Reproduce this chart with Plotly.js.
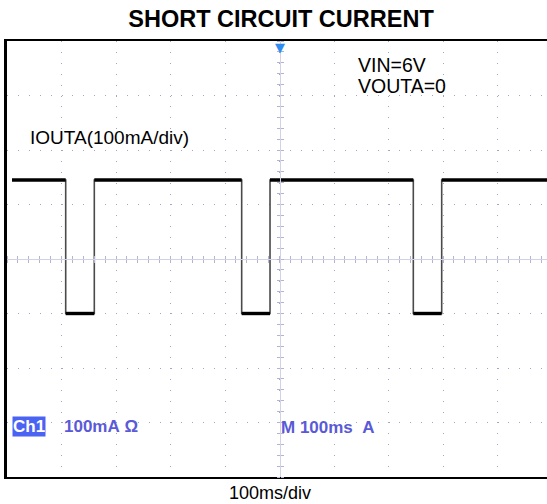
<!DOCTYPE html>
<html>
<head>
<meta charset="utf-8">
<script src="https://cdn.plot.ly/plotly-3.0.1.min.js"></script>
<style>html,body{margin:0;padding:0;background:#fff;}#chart{width:547px;height:504px;}</style>
</head>
<body>
<div id="chart"></div>
<script>
// ---- data (time in ms, current in mA; 100 ms/div, 100 mA/div) ----
const stepTimes = [9.2, 107.7, 160.2, 430.6, 482.6, 745.5, 797.6, 990.8];
const stepCurrent = [245, 0, 245, 0, 245, 0, 245, 245];
const titleText = 'SHORT CIRCUIT CURRENT';
const xTitleText = '100ms/div';
const traceLabel = 'IOUTA(100mA/div)';
const condLines = ['VIN=6V', 'VOUTA=0'];
const scopeLabels = ['Ch1', '100mA\u00a0\u03A9', 'M 100ms\u00a0\u00a0A'];

const xRange = [0, 990.8];
const yRange = [-300, 500];

// plateau segments (thick) built from the step arrays
const platX = [], platY = [];
for (let i = 0; i < stepTimes.length - 1; i++) {
  platX.push(stepTimes[i], stepTimes[i + 1], null);
  platY.push(stepCurrent[i], stepCurrent[i], null);
}

const FONT = 'Liberation Sans, Arial, sans-serif';
const gridDash = '1px,9.9px';
const gridColor = '#a4a4c4';
const crossColor = '#d2d2e6';

const traces = [
  {x: stepTimes, y: stepCurrent, mode: 'lines', line: {shape: 'hv', color: '#4a4a4a', width: 1.6},
   hoverinfo: 'skip', showlegend: false},
  {x: platX, y: platY, mode: 'lines', line: {color: '#000', width: 3.4},
   hoverinfo: 'skip', showlegend: false, connectgaps: false},
  {x: [], y: [], xaxis: 'x2', yaxis: 'y2', showlegend: false, hoverinfo: 'skip'},
  {x: [], y: [], xaxis: 'x3', yaxis: 'y3', showlegend: false, hoverinfo: 'skip'}
];

const baseX = {range: xRange, fixedrange: true, showticklabels: false, zeroline: false};
const baseY = {range: yRange, fixedrange: true, showticklabels: false, zeroline: false};

const px = p => (p - 7) / 540;      // pixel x -> paper
const py = p => (477 - p) / 436;    // pixel y -> paper

const annotations = [
  {text: traceLabel, xref: 'paper', yref: 'paper', x: px(28), y: py(137), xanchor: 'left', yanchor: 'middle',
   showarrow: false, font: {family: FONT, size: 19, color: '#000'}},
  {text: condLines[0], xref: 'paper', yref: 'paper', x: px(356), y: py(65), xanchor: 'left', yanchor: 'middle',
   showarrow: false, font: {family: FONT, size: 19.5, color: '#000'}},
  {text: condLines[1], xref: 'paper', yref: 'paper', x: px(356), y: py(86), xanchor: 'left', yanchor: 'middle',
   showarrow: false, font: {family: FONT, size: 19.5, color: '#000'}},
  {text: '<b>' + scopeLabels[0] + '</b>', xref: 'paper', yref: 'paper', x: px(12), y: py(426), xanchor: 'left', yanchor: 'middle',
   showarrow: false, bgcolor: '#4a63f2', borderpad: 0, font: {family: FONT, size: 17, color: '#ffffff'}},
  {text: '<b>' + scopeLabels[1] + '</b>', xref: 'paper', yref: 'paper', x: px(62), y: py(426), xanchor: 'left', yanchor: 'middle',
   showarrow: false, font: {family: FONT, size: 17, color: '#5a5ad8'}},
  {text: '<b>' + scopeLabels[2] + '</b>', xref: 'paper', yref: 'paper', x: px(279), y: py(427), xanchor: 'left', yanchor: 'middle',
   showarrow: false, font: {family: FONT, size: 17, color: '#5a5ad8'}},
  {text: xTitleText, xref: 'paper', yref: 'paper', x: px(270), y: py(493), xanchor: 'center', yanchor: 'middle',
   showarrow: false, font: {family: FONT, size: 18, color: '#000'}},
  {text: '\u25BC', xref: 'x', yref: 'paper', x: 500, y: py(38), xanchor: 'center', yanchor: 'top',
   showarrow: false, font: {family: 'DejaVu Sans', size: 13, color: '#2f8cf0'}}
];

const layout = {
  width: 547, height: 504,
  margin: {l: 7, r: 0, t: 41, b: 27, pad: 0},
  paper_bgcolor: '#fff', plot_bgcolor: '#fff',
  showlegend: false,
  title: {text: '<b>' + titleText + '</b>', font: {family: FONT, size: 23.5, color: '#000'},
          x: 281 / 547, xref: 'container', xanchor: 'center', y: 1 - 19 / 504, yref: 'container', yanchor: 'middle'},
  xaxis: Object.assign({}, baseX, {dtick: 100, tick0: 0, showgrid: true, gridcolor: gridColor, gridwidth: 1,
          griddash: gridDash, showline: true, linecolor: '#000', linewidth: 2.2, mirror: true, ticks: ''}),
  yaxis: Object.assign({}, baseY, {dtick: 100, tick0: -300, showgrid: true, gridcolor: gridColor, gridwidth: 1,
          griddash: gridDash, showline: true, linecolor: '#000', linewidth: 2.6, mirror: false, ticks: ''}),
  xaxis2: Object.assign({}, baseX, {overlaying: 'x', anchor: 'free', position: 0.5, side: 'bottom',
          showgrid: false, showline: true, linecolor: crossColor, linewidth: 1, ticks: 'outside', ticklen: 3,
          tickcolor: '#b4b4d0', tickwidth: 1, dtick: 20, tick0: 0}),
  xaxis3: Object.assign({}, baseX, {overlaying: 'x', anchor: 'free', position: 0.5, side: 'top',
          showgrid: false, showline: false, ticks: 'outside', ticklen: 3,
          tickcolor: '#b4b4d0', tickwidth: 1, dtick: 20, tick0: 0}),
  yaxis2: Object.assign({}, baseY, {overlaying: 'y', anchor: 'free', position: 500 / xRange[1], side: 'left',
          showgrid: false, showline: true, linecolor: crossColor, linewidth: 1, ticks: 'outside', ticklen: 3,
          tickcolor: '#b4b4d0', tickwidth: 1, dtick: 20, tick0: 0}),
  yaxis3: Object.assign({}, baseY, {overlaying: 'y', anchor: 'free', position: 500 / xRange[1], side: 'right',
          showgrid: false, showline: false, ticks: 'outside', ticklen: 3,
          tickcolor: '#b4b4d0', tickwidth: 1, dtick: 20, tick0: 0}),
  annotations: annotations
};

Plotly.newPlot('chart', traces, layout, {staticPlot: true, displayModeBar: false});
</script>
</body>
</html>
